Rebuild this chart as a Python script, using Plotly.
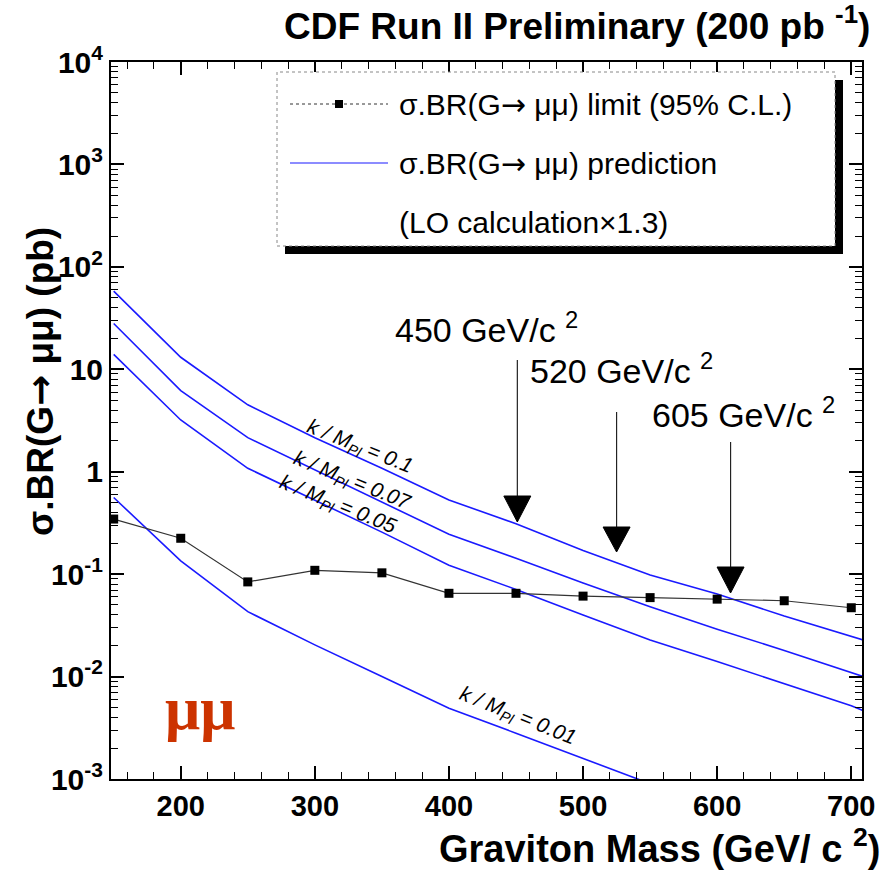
import plotly.graph_objects as go

# ---------------- data ----------------
mass_limit = [150, 200, 250, 300, 350, 400, 450, 500, 550, 600, 650, 700]
limit_95cl = [0.345, 0.224, 0.084, 0.109, 0.103, 0.065, 0.065, 0.061, 0.059, 0.057, 0.055, 0.047]

mass_pred = [150, 200, 250, 300, 350, 400, 450, 500, 550, 600, 650, 700, 710]
pred_k010 = [58, 13.1, 4.5, 2.15, 1.08, 0.53, 0.31, 0.17, 0.098, 0.064, 0.039, 0.025, 0.0225]
pred_k007 = [28, 6.2, 2.15, 1.04, 0.50, 0.245, 0.143, 0.082, 0.048, 0.029, 0.018, 0.011, 0.0099]
pred_k005 = [14, 3.2, 1.08, 0.53, 0.257, 0.122, 0.071, 0.040, 0.0227, 0.014, 0.0085, 0.0052, 0.0046]
mass_pred_001 = [150, 200, 250, 300, 350, 400, 450, 500, 550]
pred_k001 = [0.56, 0.135, 0.043, 0.0204, 0.010, 0.0049, 0.0028, 0.0016, 0.0009]

arrow_mass = [451, 525, 610]
arrow_labels = ["450 GeV/c <sup>2</sup>", "520 GeV/c <sup>2</sup>", "605 GeV/c <sup>2</sup>"]

y_tickvals = [1e-3, 1e-2, 1e-1, 1, 10, 1e2, 1e3, 1e4]
y_ticktext = ["10<sup>-3</sup>", "10<sup>-2</sup>", "10<sup>-1</sup>", "1", "10",
              "10<sup>2</sup>", "10<sup>3</sup>", "10<sup>4</sup>"]
x_tickvals = [200, 300, 400, 500, 600, 700]

# ---------------- layout geometry ----------------
W, H = 893, 881
L, R, T, B = 111, 862, 62, 779


def X(px):
    return (px - L) / (R - L)


def Y(py):
    return (B - py) / (B - T)


BLUE = "#1a1aff"
FONT = "Liberation Sans"
ARROW = "<span style='font-family:DejaVu Sans'>→</span>"

fig = go.Figure()

for ys in (pred_k010, pred_k007, pred_k005):
    fig.add_trace(go.Scatter(x=mass_pred, y=ys, mode="lines",
                             line=dict(color=BLUE, width=1.6), showlegend=False))
fig.add_trace(go.Scatter(x=mass_pred_001, y=pred_k001, mode="lines",
                         line=dict(color=BLUE, width=1.6), showlegend=False))
fig.add_trace(go.Scatter(x=mass_limit, y=limit_95cl, mode="lines+markers",
                         line=dict(color="#333333", width=1.2),
                         marker=dict(symbol="square", size=9, color="black"),
                         showlegend=False, cliponaxis=True))

# minor ticks
y_minor = [m * 10 ** e for e in range(-3, 4) for m in range(2, 10)]
x_minor = list(range(160, 708, 20))

fig.update_xaxes(range=[148, 708], showline=True, linecolor="black", linewidth=2,
                 mirror="allticks", ticks="inside", ticklen=13, tickwidth=1.5,
                 tickcolor="black", tickmode="array", tickvals=x_tickvals,
                 tickfont=dict(family=FONT, size=29, color="black", weight="bold"),
                 showgrid=False, zeroline=False,
                 minor=dict(ticks="inside", ticklen=7, tickwidth=1.2, tickcolor="black",
                            tickmode="array", tickvals=x_minor, showgrid=False))
fig.update_yaxes(type="log", range=[-3, 4], showline=True, linecolor="black", linewidth=2,
                 mirror="allticks", ticks="inside", ticklen=13, tickwidth=1.5,
                 tickcolor="black", tickmode="array", tickvals=y_tickvals,
                 ticktext=y_ticktext,
                 tickfont=dict(family=FONT, size=30, color="black", weight="bold"),
                 showgrid=False, zeroline=False,
                 minor=dict(ticks="inside", ticklen=7, tickwidth=1.2, tickcolor="black",
                            tickmode="array", tickvals=y_minor, showgrid=False))

shapes = []
# legend shadow and box
shapes.append(dict(type="rect", xref="paper", yref="paper", x0=X(285), x1=X(843),
                   y0=Y(254), y1=Y(80), fillcolor="black", line=dict(width=0)))
shapes.append(dict(type="rect", xref="paper", yref="paper", x0=X(277), x1=X(835),
                   y0=Y(246), y1=Y(72), fillcolor="white",
                   line=dict(color="#888888", width=1, dash="dot")))
shapes.append(dict(type="line", xref="paper", yref="paper", x0=X(290), x1=X(388),
                   y0=Y(104), y1=Y(104), line=dict(color="#333333", width=1, dash="dot")))
shapes.append(dict(type="rect", xref="paper", yref="paper", x0=X(335), x1=X(343),
                   y0=Y(108), y1=Y(100), fillcolor="black", line=dict(width=0)))
shapes.append(dict(type="line", xref="paper", yref="paper", x0=X(290), x1=X(388),
                   y0=Y(163), y1=Y(163), line=dict(color=BLUE, width=1.2)))

# arrows
arrow_tops = [360, 412, 442]
arrow_heads = [496, 527, 567]
arrow_tips = [522, 552, 593]
half = 13.5 / ((R - L) / (708 - 148))
for m, t, h, tip in zip(arrow_mass, arrow_tops, arrow_heads, arrow_tips):
    shapes.append(dict(type="line", xref="x", yref="paper", x0=m, x1=m,
                       y0=Y(t), y1=Y(h), line=dict(color="#222222", width=1.2)))
    shapes.append(dict(type="path", xref="x", yref="paper",
                       path=f"M {m - half},{Y(h)} L {m + half},{Y(h)} L {m},{Y(tip)} Z",
                       fillcolor="black", line=dict(color="black", width=1)))

ann = []
ann.append(dict(text="<b>CDF Run II Preliminary (200 pb <sup>-1</sup>)</b>", x=X(872), y=Y(24),
                xref="paper", yref="paper", xanchor="right", yanchor="middle", showarrow=False,
                font=dict(family=FONT, size=37, color="black")))
ann.append(dict(text="<b>Graviton Mass (GeV/ c <sup>2</sup>)</b>", x=X(882), y=Y(846),
                xref="paper", yref="paper", xanchor="right", yanchor="middle", showarrow=False,
                font=dict(family=FONT, size=38, color="black")))
ann.append(dict(text=f"<b>σ.BR(G{ARROW} μμ) (pb)</b>", x=X(40), y=Y(382), textangle=-90,
                xref="paper", yref="paper", xanchor="center", yanchor="middle", showarrow=False,
                font=dict(family=FONT, size=37, color="black")))
leg_texts = [f"σ.BR(G{ARROW} μμ) limit (95% C.L.)", f"σ.BR(G{ARROW} μμ) prediction",
             "(LO calculation×1.3)"]
for txt, py in zip(leg_texts, [104, 163, 222]):
    ann.append(dict(text=txt, x=X(397), y=Y(py), xref="paper", yref="paper",
                    xanchor="left", yanchor="middle", showarrow=False,
                    font=dict(family=FONT, size=30, color="black")))
for txt, px, py in zip(arrow_labels, [393, 528, 650], [327, 368, 412]):
    ann.append(dict(text=txt, x=X(px), y=Y(py), xref="paper", yref="paper",
                    xanchor="left", yanchor="middle", showarrow=False,
                    font=dict(family=FONT, size=34, color="black")))
k_labels = ["k / M<sub>Pl</sub> = 0.1", "k / M<sub>Pl</sub> = 0.07",
            "k / M<sub>Pl</sub> = 0.05", "k / M<sub>Pl</sub> = 0.01"]
for txt, px, py in zip(k_labels, [360, 352, 338, 517], [447, 481, 505, 716]):
    ann.append(dict(text=f"<i>{txt}</i>", x=X(px), y=Y(py), xref="paper", yref="paper",
                    xanchor="center", yanchor="middle", showarrow=False, textangle=22,
                    font=dict(family=FONT, size=21, color="black")))
ann.append(dict(text="<b>μμ</b>", x=X(200), y=Y(708), xref="paper", yref="paper",
                xanchor="center", yanchor="middle", showarrow=False,
                font=dict(family="Liberation Serif", size=62, color="#cc3300")))

fig.update_layout(width=W, height=H, margin=dict(l=L, r=W - R, t=T, b=H - B),
                  paper_bgcolor="white", plot_bgcolor="white",
                  shapes=shapes, annotations=ann, showlegend=False)

fig.write_html("out.html")
